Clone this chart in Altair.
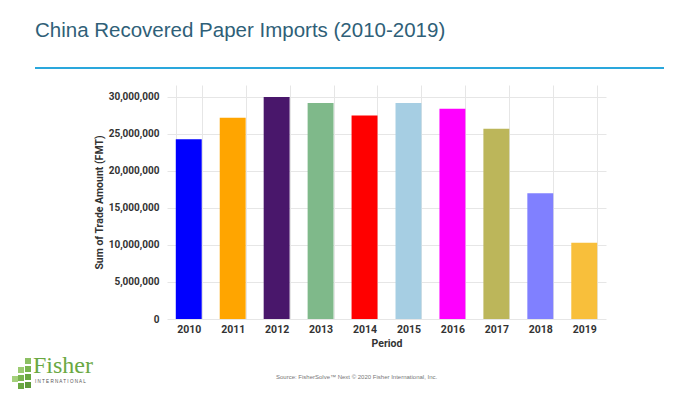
import altair as alt
import pandas as pd

years = ["2010", "2011", "2012", "2013", "2014", "2015", "2016", "2017", "2018", "2019"]
imports = [24300000, 27200000, 30000000, 29200000, 27500000, 29200000, 28400000, 25700000, 17000000, 10300000]
bar_colors = ["#0000ff", "#ffa500", "#49176b", "#7fb98a", "#ff0000", "#a6cee3",
              "#ff00ff", "#bcb65a", "#8080ff", "#f8bf3b"]
y_ticks = [0, 5000000, 10000000, 15000000, 20000000, 25000000, 30000000]

title_text = "China Recovered Paper Imports (2010-2019)"
source_text = "Source: FisherSolve\u2122 Next \u00a9 2020 Fisher International, Inc."

df = pd.DataFrame({"year": years, "amount": imports})

W, H = 439, 234
one = alt.Data(values=[{}])

bars = alt.Chart(df).mark_bar().encode(
    x=alt.X("year:N", sort=years,
            scale=alt.Scale(paddingInner=0.41, paddingOuter=0.2),
            axis=alt.Axis(title="Period", labelAngle=0, tickBand="extent", grid=True,
                          gridColor="#e6e6e6", domain=False, ticks=False,
                          labelPadding=5, labelFont="Roboto", labelFontSize=10.5,
                          labelFontWeight="bold", labelColor="#333333",
                          titleFont="Roboto", titleFontSize=10.5, titleFontWeight="bold",
                          titleColor="#333333", titlePadding=4)),
    y=alt.Y("amount:Q",
            scale=alt.Scale(domain=[0, 31620000], nice=False),
            axis=alt.Axis(title="Sum of Trade Amount (FMT)", values=y_ticks, format=",d",
                          grid=True, gridColor="#e6e6e6", domain=False, ticks=False,
                          labelPadding=8, labelFont="Roboto", labelFontSize=10,
                          labelFontWeight="bold", labelColor="#333333",
                          titleFont="Roboto", titleFontSize=10.5, titleFontWeight="bold",
                          titleColor="#333333", titlePadding=4)),
    color=alt.Color("year:N", scale=alt.Scale(domain=years, range=bar_colors), legend=None),
)

ox, oy = 167, 85  # plot origin in page coordinates (for decorations)

title = alt.Chart(one).mark_text(
    text=title_text, align="left", baseline="alphabetic", font="Liberation Sans",
    fontSize=20.5, color="#2f5f78"
).encode(x=alt.value(35 - ox), y=alt.value(37 - oy))

hline = alt.Chart(one).mark_rule(color="#2aa7dc", strokeWidth=2).encode(
    x=alt.value(35 - ox), x2=alt.value(664 - ox), y=alt.value(68 - oy))

source = alt.Chart(one).mark_text(
    text=source_text, align="left", baseline="middle", font="Liberation Sans",
    fontSize=6, color="#777777"
).encode(x=alt.value(276 - ox), y=alt.value(377 - oy))

logo_word = alt.Chart(one).mark_text(
    text="Fisher", align="left", baseline="alphabetic", font="Liberation Serif",
    fontSize=24, color="#6aa842"
).encode(x=alt.value(33 - ox), y=alt.value(373 - oy))

logo_sub = alt.Chart(one).mark_text(
    text="I N T E R N A T I O N A L", align="left", baseline="middle", font="Liberation Sans",
    fontSize=4.6, color="#555555"
).encode(x=alt.value(35 - ox), y=alt.value(382 - oy))

logo_layers = []
squares = [(25, 358, "#8cc063"), (25, 366, "#7ab550"), (25, 374, "#6aa842"),
           (18, 367, "#9ccb72"), (18, 375, "#7ab550"), (12, 376, "#a5d07c"),
           (25, 382, "#5e9a3a"), (18, 383, "#6aa842")]
for sx, sy, sc in squares:
    logo_layers.append(
        alt.Chart(one).mark_rect(color=sc).encode(
            x=alt.value(sx - ox), x2=alt.value(sx + 6 - ox),
            y=alt.value(sy - oy), y2=alt.value(sy + 6 - oy)))

chart = alt.layer(bars, title, hline, source, logo_word, logo_sub, *logo_layers).properties(
    width=W, height=H,
    autosize=alt.AutoSizeParams(type="none"),
    padding={"left": ox - 8, "top": oy - 8, "right": 86, "bottom": 72},
    background="#ffffff",
).configure_view(strokeWidth=0)

chart.save("out.html", embed_options={"renderer": "svg", "actions": False})
